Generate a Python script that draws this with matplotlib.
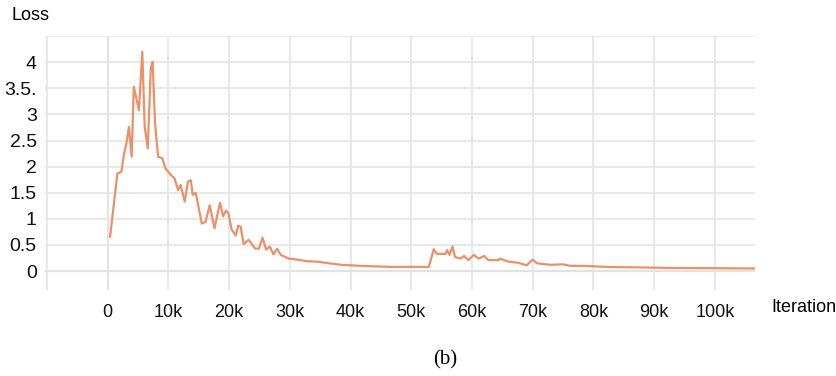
import matplotlib
matplotlib.use("Agg")
import matplotlib.pyplot as plt

# training loss curve (iteration in thousands)
steps_k = [0.4, 1.6, 2.25, 2.7, 3.1, 3.5, 3.95, 4.3, 5.15, 5.7,
           6.1, 6.6, 7.1, 7.4, 7.8, 8.3, 9.0, 9.5, 10.4, 11.0,
           11.6, 12.0, 12.7, 13.2, 13.7, 14.0, 14.5, 15.5, 16.1, 16.8,
           17.6, 18.5, 19.0, 19.5, 19.9, 20.4, 21.1, 21.5, 21.9, 22.4,
           23.2, 24.3, 24.9, 25.5, 26.1, 26.7, 27.3, 27.9, 28.5, 29.8,
           31.2, 32.8, 34.5, 36.4, 38.5, 41.6, 44.0, 47.1, 50.0, 52.9,
           53.7, 54.2, 55.6, 55.9, 56.3, 56.8, 57.2, 58.1, 58.7, 59.4,
           60.3, 61.1, 62.0, 62.7, 64.4, 64.6, 66.0, 67.6, 69.0, 70.0,
           70.7, 72.9, 75.0, 76.2, 78.3, 82.2, 87.7, 93.1, 100.0, 107.0]
loss = [0.66, 1.87, 1.90, 2.25, 2.45, 2.76, 2.19, 3.53, 3.08, 4.20,
        2.76, 2.35, 3.88, 4.01, 2.83, 2.19, 2.16, 1.97, 1.84, 1.78,
        1.55, 1.65, 1.33, 1.71, 1.74, 1.46, 1.50, 0.91, 0.94, 1.26,
        0.82, 1.31, 1.05, 1.16, 1.10, 0.80, 0.68, 0.87, 0.85, 0.52,
        0.60, 0.43, 0.43, 0.64, 0.41, 0.47, 0.32, 0.43, 0.31, 0.24,
        0.22, 0.19, 0.18, 0.15, 0.12, 0.10, 0.09, 0.08, 0.08, 0.08,
        0.42, 0.33, 0.33, 0.40, 0.31, 0.47, 0.27, 0.24, 0.29, 0.21,
        0.31, 0.24, 0.29, 0.21, 0.21, 0.24, 0.18, 0.16, 0.11, 0.22,
        0.15, 0.12, 0.13, 0.10, 0.10, 0.08, 0.07, 0.06, 0.055, 0.05]

xticks = [-10000, 0, 10000, 20000, 30000, 40000, 50000, 60000, 70000, 80000, 90000, 100000]
xlabels = ["", "0", "10k", "20k", "30k", "40k", "50k", "60k", "70k", "80k", "90k", "100k"]
yticks = [0, 0.5, 1, 1.5, 2, 2.5, 3, 3.5, 4, 4.5]
ylabels = ["0", "0.5", "1", "1.5", "2", "2.5", "3", "3.5.", "4", ""]

plt.rcParams['font.family'] = ['Liberation Sans', 'DejaVu Sans']

fig = plt.figure(figsize=(8.36, 3.76), dpi=100)
ax = fig.add_axes([0.054, 0.229, 0.849, 0.675])

iters = [s * 1000 for s in steps_k]
ax.plot(iters, loss, color="#E8916A", lw=1.6, zorder=3, solid_joinstyle="round")

ax.set_xlim(-10300, 106600)
ax.set_ylim(-0.36, 4.5)
ax.set_xticks(xticks)
ax.set_xticklabels(xlabels)
ax.set_yticks(yticks)
ax.set_yticklabels(ylabels)
ax.tick_params(length=0, colors="#111111")
ax.tick_params(axis="x", pad=10, labelsize=13)
ax.tick_params(axis="y", pad=6, labelsize=14)
ax.grid(True, color="#e6e6e6", lw=1.3, zorder=0)
ax.axhline(0, color="#c4c4c4", lw=1.5, zorder=1)
ax.axvline(0, color="#d2d2d2", lw=1.5, zorder=1)
for s in ax.spines.values():
    s.set_visible(False)

fig.text(0.014, 0.96, "Loss", fontsize=13, va="center", ha="left")
fig.text(0.923, 0.183, "Iteration", fontsize=13, va="center", ha="left")
fig.text(0.532, 0.042, "(b)", fontsize=15, va="center", ha="center",
         family=["Liberation Serif", "DejaVu Serif"])

fig.savefig("out.png", dpi=100)
